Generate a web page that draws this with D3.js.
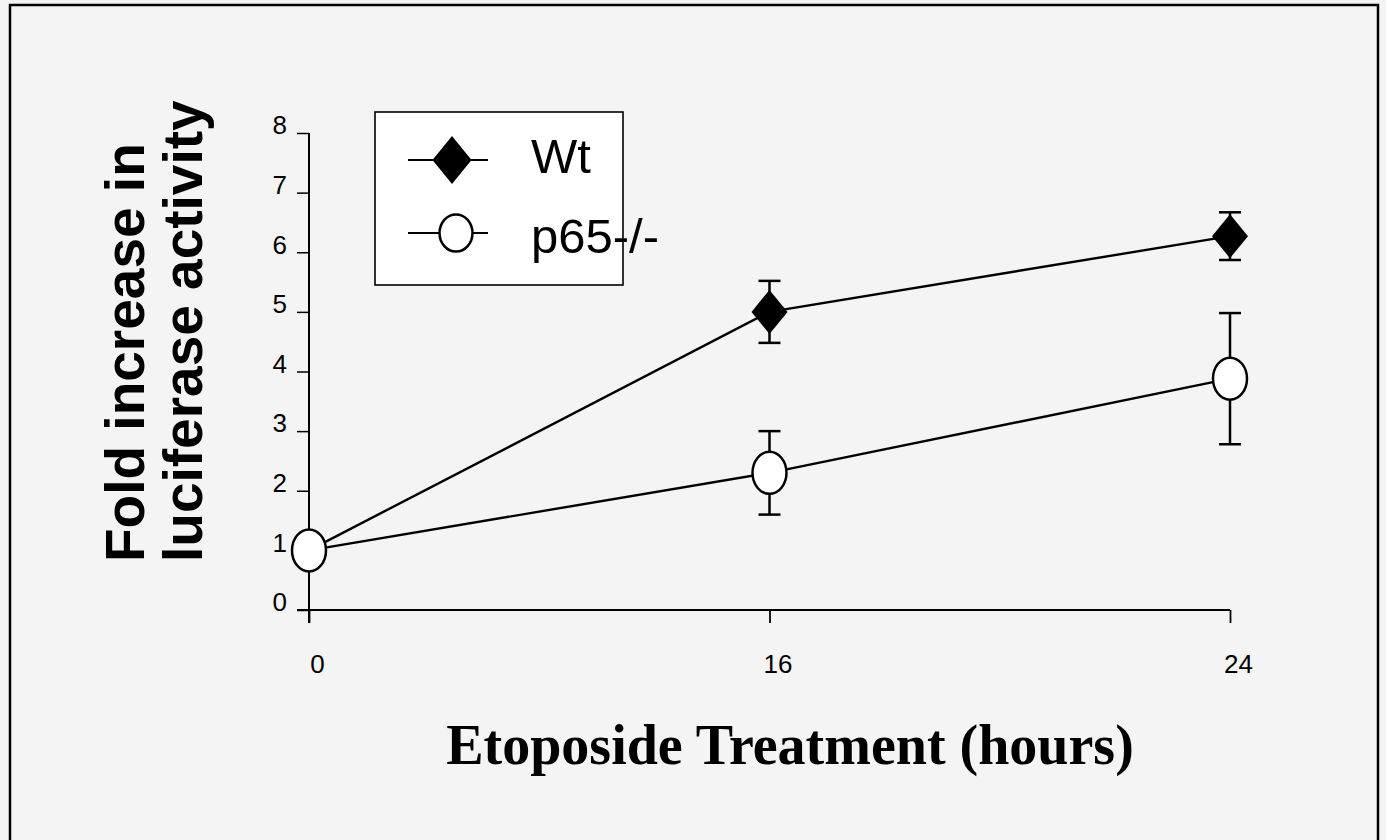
<!DOCTYPE html>
<html>
<head>
<meta charset="utf-8">
<script src="https://cdn.jsdelivr.net/npm/d3@7"></script>
<style>
html,body{margin:0;padding:0;background:#ffffff;}
svg{display:block;}
</style>
</head>
<body>
<svg id="chart" width="1386" height="840"></svg>
<script>
// ---- data ----
const hours = ["0", "16", "24"];
const yTicks = [0, 1, 2, 3, 4, 5, 6, 7, 8];
const wtMean = [1.0, 5.0, 6.27];
const wtErr  = [0, 0.52, 0.4];
const p65Mean = [1.0, 2.3, 3.88];
const p65Err  = [0, 0.7, 1.1];
const seriesNames = ["Wt", "p65-/-"];
const yTitleLines = ["Fold increase in", "luciferase activity"];
const xTitle = "Etoposide Treatment (hours)";

const svg = d3.select("#chart");
const SANS = "Arial, 'Liberation Sans', sans-serif";

// background + frame
svg.append("rect").attr("x", 0).attr("y", 0).attr("width", 1386).attr("height", 840).attr("fill", "#f4f4f4");
svg.append("rect").attr("x", 10).attr("y", 5).attr("width", 1368).attr("height", 860)
  .attr("fill", "none").attr("stroke", "#000").attr("stroke-width", 2.5);

const x = d3.scalePoint().domain(hours).range([309, 1230]);
const y = d3.scaleLinear().domain([0, 8]).range([610, 133]);

// y axis
const yAxis = svg.append("g").attr("transform", "translate(309,0)")
  .call(d3.axisLeft(y).tickValues(yTicks).tickSize(12).tickSizeOuter(0).tickPadding(10).tickFormat(d3.format("d")));
yAxis.attr("font-size", 26).attr("font-family", SANS);
yAxis.select(".domain").remove();
yAxis.selectAll(".tick line").attr("stroke", "#000").attr("stroke-width", 1.5);
yAxis.selectAll(".tick text").attr("dy", "0.03em")
  .style("font-family", SANS).style("font-size", "26px").attr("fill", "#000");
svg.append("line").attr("x1", 309).attr("x2", 309).attr("y1", y(8)).attr("y2", 623)
  .attr("stroke", "#000").attr("stroke-width", 2);

// x axis
const xAxis = svg.append("g").attr("transform", "translate(0,610)")
  .call(d3.axisBottom(x).tickSize(13).tickSizeOuter(0));
xAxis.attr("font-size", 26).attr("font-family", SANS);
xAxis.select(".domain").remove();
xAxis.selectAll(".tick line").attr("stroke", "#000").attr("stroke-width", 1.8);
xAxis.selectAll(".tick text").attr("y", 63).attr("dy", 0).attr("dx", 8)
  .style("font-family", SANS).style("font-size", "26px").attr("fill", "#000");
svg.append("line").attr("x1", 297).attr("x2", x("24")).attr("y1", y(0)).attr("y2", y(0))
  .attr("stroke", "#000").attr("stroke-width", 2);

// series
const line = d3.line().x(d => x(d[0])).y(d => y(d[1]));
const wtData = hours.map((h, i) => [h, wtMean[i], wtErr[i]]);
const p65Data = hours.map((h, i) => [h, p65Mean[i], p65Err[i]]);

function errorBars(data) {
  const g = svg.append("g").attr("stroke", "#000").attr("stroke-width", 2.5);
  data.filter(d => d[2] > 0).forEach(d => {
    const cx = x(d[0]);
    g.append("line").attr("x1", cx).attr("x2", cx).attr("y1", y(d[1] + d[2])).attr("y2", y(d[1] - d[2]));
    g.append("line").attr("x1", cx - 11).attr("x2", cx + 11).attr("y1", y(d[1] + d[2])).attr("y2", y(d[1] + d[2]));
    g.append("line").attr("x1", cx - 11).attr("x2", cx + 11).attr("y1", y(d[1] - d[2])).attr("y2", y(d[1] - d[2]));
  });
}

const diamond = (hw, hh) => `M0,${-hh}L${hw},0L0,${hh}L${-hw},0Z`;

svg.append("path").datum(wtData).attr("d", line).attr("fill", "none").attr("stroke", "#000").attr("stroke-width", 2.4);
svg.append("path").datum(p65Data).attr("d", line).attr("fill", "none").attr("stroke", "#000").attr("stroke-width", 2.4);
errorBars(wtData);
errorBars(p65Data);

svg.append("g").selectAll("path").data(wtData).join("path")
  .attr("transform", d => `translate(${x(d[0])},${y(d[1])})`)
  .attr("d", diamond(18, 22)).attr("fill", "#000");

svg.append("g").selectAll("ellipse").data(p65Data).join("ellipse")
  .attr("cx", d => x(d[0])).attr("cy", d => y(d[1])).attr("rx", 17).attr("ry", 21)
  .attr("fill", "#fff").attr("stroke", "#000").attr("stroke-width", 2.5);

// legend
const lg = svg.append("g");
lg.append("rect").attr("x", 375).attr("y", 112).attr("width", 248).attr("height", 173)
  .attr("fill", "#fff").attr("stroke", "#000").attr("stroke-width", 1.6);
const rows = [160, 233];
seriesNames.forEach((name, i) => {
  const ry = rows[i];
  lg.append("line").attr("x1", 408).attr("x2", 488).attr("y1", ry).attr("y2", ry)
    .attr("stroke", "#000").attr("stroke-width", 2.2);
  if (i === 0) {
    lg.append("path").attr("transform", `translate(452,${ry})`).attr("d", diamond(19.5, 24)).attr("fill", "#000");
  } else {
    lg.append("ellipse").attr("cx", 456).attr("cy", ry).attr("rx", 16.5).attr("ry", 18.5)
      .attr("fill", "#fff").attr("stroke", "#000").attr("stroke-width", 2.5);
  }
  lg.append("text").attr("x", 531).attr("y", ry + 13 + (i === 0 ? 0 : 7))
    .attr("font-family", SANS).attr("font-size", 49).attr("fill", "#000")
    .text(name);
});

// y title
const yt = svg.append("g").attr("transform", "translate(144,562) rotate(-90)");
yTitleLines.forEach((t, i) => {
  yt.append("text").attr("x", 0).attr("y", i * 58)
    .attr("font-family", SANS).attr("font-weight", "bold")
    .attr("font-size", 55).attr("fill", "#000").text(t);
});

// x title
svg.append("text").attr("x", 790).attr("y", 764).attr("text-anchor", "middle")
  .attr("font-family", "'Times New Roman', 'Liberation Serif', serif").attr("font-weight", "bold")
  .attr("font-size", 56).attr("fill", "#000").text(xTitle);
</script>
</body>
</html>
